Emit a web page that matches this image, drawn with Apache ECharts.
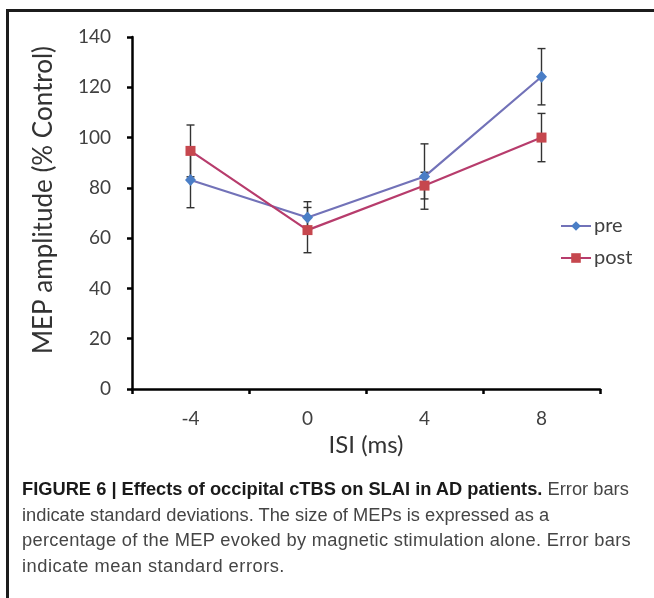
<!DOCTYPE html>
<html lang="en">
<head>
    <meta charset="UTF-8">
    <title>MEP amplitude</title>
    <script src="https://cdn.jsdelivr.net/npm/echarts@6/dist/echarts.min.js"></script>
    <style>
        html, body {
            margin: 0;
            padding: 0;
            background: #fff;
        }

        .page {
            position: relative;
            width: 654px;
            height: 598px;
            overflow: hidden;
        }

        .frame {
            position: absolute;
            left: 6px;
            top: 9px;
            width: 660px;
            height: 600px;
            border-top: 3px solid #1c1c1c;
            border-left: 3px solid #1c1c1c;
        }

        #chart {
            position: absolute;
            left: 0;
            top: 0;
            width: 654px;
            height: 598px;
        }

        .caption {
            position: absolute;
            left: 22px;
            top: 476px;
            width: 630px;
            font-family: "Liberation Sans Narrow", "Liberation Sans", Arial, sans-serif;
            font-size: 18.3px;
            line-height: 25.7px;
            color: #454545;
            white-space: nowrap;
        }

        .caption b {
            color: #1a1a1a;
        }

        .caption .l3 {
            letter-spacing: 0.3px;
        }

        .caption .l4 {
            letter-spacing: 0.5px;
        }
    </style>
</head>
<body>
    <div class="page">
        <div id="chart"></div>
        <div class="frame"></div>
        <div class="caption">
            <b>FIGURE 6 | Effects of occipital cTBS on SLAI in AD patients.</b> Error bars<br>
            indicate standard deviations. The size of MEPs is expressed as a<br>
            <span class="l3">percentage of the MEP evoked by magnetic stimulation alone. Error bars</span><br>
            <span class="l4">indicate mean standard errors.</span>
        </div>
    </div>

    <script>
        // 数据
        var categories = ['-4', '0', '4', '8'];
        var preValues = [83.1, 68.2, 84.5, 124.2];
        var preErrors = [11.0, 6.3, 13.0, 11.2];
        var postValues = [94.7, 63.2, 80.9, 100.0];
        var postErrors = [10.3, 9.0, 5.3, 9.6];
        var yMin = 0;
        var yMax = 140;
        var yStep = 20;

        var chartFont = 'Lato, "Open Sans", sans-serif';

        function errorData(values, errors) {
            var out = [];
            for (var i = 0; i < values.length; i++) {
                out.push([i, values[i] - errors[i], values[i] + errors[i]]);
            }
            return out;
        }

        // 误差线
        function renderError(params, api) {
            var idx = api.value(0);
            var lo = api.coord([idx, api.value(1)]);
            var hi = api.coord([idx, api.value(2)]);
            var w = 4;
            var style = { stroke: '#333', lineWidth: 1.4 };
            return {
                type: 'group',
                children: [
                    { type: 'line', shape: { x1: lo[0], y1: lo[1], x2: hi[0], y2: hi[1] }, style: style },
                    { type: 'line', shape: { x1: lo[0] - w, y1: lo[1], x2: lo[0] + w, y2: lo[1] }, style: style },
                    { type: 'line', shape: { x1: hi[0] - w, y1: hi[1], x2: hi[0] + w, y2: hi[1] }, style: style }
                ]
            };
        }

        var chart = echarts.init(document.getElementById('chart'));
        chart.setOption({
            animation: false,
            textStyle: { fontFamily: chartFont },
            grid: {
                left: 132,
                right: 54,
                top: 37,
                bottom: 209
            },
            legend: {
                data: ['pre', 'post'],
                orient: 'vertical',
                left: 560,
                top: 216,
                padding: 0,
                itemWidth: 30,
                itemHeight: 12,
                itemGap: 12,
                textStyle: {
                    fontFamily: chartFont,
                    fontSize: 20,
                    color: '#404040',
                    padding: [0, 0, 0, -2]
                }
            },
            xAxis: {
                type: 'category',
                data: categories,
                boundaryGap: true,
                name: 'ISI (ms)',
                nameLocation: 'middle',
                nameGap: 41,
                nameTextStyle: { fontFamily: chartFont, fontSize: 24, color: '#333' },
                axisLine: { lineStyle: { color: '#000', width: 2.5 } },
                axisTick: { show: true, length: 5, lineStyle: { color: '#000', width: 2.5 } },
                axisLabel: { fontFamily: chartFont, fontSize: 19, color: '#404040', margin: 20 },
                splitLine: { show: false }
            },
            yAxis: {
                type: 'value',
                min: yMin,
                max: yMax,
                interval: yStep,
                name: 'MEP amplitude (% Control)',
                nameLocation: 'middle',
                nameGap: 75,
                nameTextStyle: { fontFamily: chartFont, fontSize: 26, color: '#333', padding: [0, 0, 0, 26] },
                axisLine: { show: true, lineStyle: { color: '#000', width: 2.5 } },
                axisTick: { show: true, length: 5, lineStyle: { color: '#000', width: 2.5 } },
                axisLabel: { fontFamily: chartFont, fontSize: 19, color: '#404040', margin: 21 },
                splitLine: { show: false }
            },
            series: [
                {
                    name: 'preErr',
                    type: 'custom',
                    renderItem: renderError,
                    data: errorData(preValues, preErrors),
                    z: 1
                },
                {
                    name: 'postErr',
                    type: 'custom',
                    renderItem: renderError,
                    data: errorData(postValues, postErrors),
                    z: 1
                },
                {
                    name: 'pre',
                    type: 'line',
                    data: preValues,
                    symbol: 'diamond',
                    symbolSize: [11, 12],
                    lineStyle: { color: '#7272B8', width: 2.2 },
                    itemStyle: { color: '#4A7EC6' },
                    z: 3
                },
                {
                    name: 'post',
                    type: 'line',
                    data: postValues,
                    symbol: 'rect',
                    symbolSize: 10,
                    lineStyle: { color: '#B73C6C', width: 2.2 },
                    itemStyle: { color: '#C6474E' },
                    z: 4
                }
            ]
        });
    </script>
</body>
</html>
